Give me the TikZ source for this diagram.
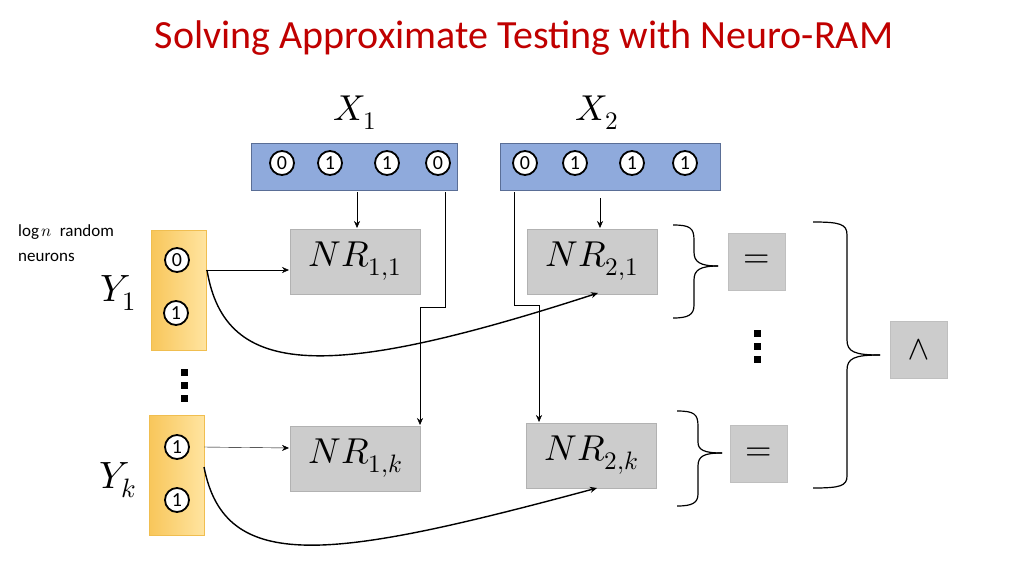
\documentclass[tikz,border=0pt]{standalone}
\usetikzlibrary{arrows.meta}
\usepackage{fontspec}
\usepackage{unicode-math}
\setmainfont{Carlito}
\setmathfont{Latin Modern Math}
\begin{document}
\begin{tikzpicture}[x=1pt,y=-1pt,
 bit/.style={circle,draw,line width=1.8pt,fill=white,inner sep=0pt,minimum size=24pt,font=\fontsize{20}{20}\selectfont},
 nr/.style={draw=gray!60,fill=gray!40,minimum width=130pt,minimum height=65pt,font=\fontsize{36}{36}\selectfont},
 gb/.style={draw=gray!50,fill=gray!40,minimum width=57pt,minimum height=57pt,font=\fontsize{34}{34}\selectfont},
 arr/.style={-{Stealth[length=7pt,width=6pt]}},
 br/.style={line width=1.2pt}]
\useasboundingbox (0,0) rectangle (1024,576);
\fill[white] (0,0) rectangle (1024,576);
\node[text={rgb,255:red,192;green,0;blue,0},font=\fontsize{40}{40}\selectfont] (title) at (524,38) {Solving Approximate Testing with Neuro-RAM};
% X boxes
\node[draw={rgb,255:red,90;green,110;blue,150},fill={rgb,255:red,143;green,170;blue,220},minimum width=206pt,minimum height=47pt] (X1) at (354,166.5) {};
\node[draw={rgb,255:red,90;green,110;blue,150},fill={rgb,255:red,143;green,170;blue,220},minimum width=220pt,minimum height=47pt] (X2) at (610,166.5) {};
\node[font=\fontsize{36}{36}\selectfont] (lx1) at (355,113) {$X_1$};
\node[font=\fontsize{36}{36}\selectfont] (lx2) at (597,113) {$X_2$};
\foreach \x/\v [count=\i] in {282/0,330/1,387/1,438/0}{\node[bit] (a\i) at (\x,163) {\v};}
\foreach \x/\v [count=\i] in {525/0,575/1,632/1,685/1}{\node[bit] (b\i) at (\x,163) {\v};}
% Y boxes
\node[draw={rgb,255:red,240;green,190;blue,80},left color={rgb,255:red,248;green,198;blue,90},right color={rgb,255:red,255;green,228;blue,160},minimum width=55pt,minimum height=120pt] (Y1) at (178.5,290) {};
\node[draw={rgb,255:red,240;green,190;blue,80},left color={rgb,255:red,248;green,198;blue,90},right color={rgb,255:red,255;green,228;blue,160},minimum width=55pt,minimum height=120pt] (Yk) at (176.5,475) {};
\node[bit] (y10) at (177,260) {0};
\node[bit] (y11) at (176,313) {1};
\node[bit] (yk0) at (177,447) {1};
\node[bit] (yk1) at (177,500) {1};
\node[font=\fontsize{38}{38}\selectfont] (ly1) at (118,293) {$Y_1$};
\node[font=\fontsize{38}{38}\selectfont] (lyk) at (118,480) {$Y_k$};
\node[align=left,anchor=north west,inner sep=0pt,font=\fontsize{17}{25}\selectfont] (lg) at (18,224) {log\,$n$\ \ random\\neurons};
\foreach \y in {372,385,398}{\fill (180.5,\y-3.5) rectangle (187.5,\y+3.5);}
\foreach \y in {333,346,359}{\fill (754,\y-3.5) rectangle (761,\y+3.5);}
% NR
\node[nr] (n11) at (355,261.5) {$NR_{1,1}$};
\node[nr] (n1k) at (355.5,458.5) {$NR_{1,k}$};
\node[nr] (n21) at (592,261.5) {$NR_{2,1}$};
\node[nr] (n2k) at (591.5,455.5) {$NR_{2,k}$};
\node[gb] (e1) at (756.5,261.5) {$=$};
\node[gb] (e2) at (758.5,454) {$=$};
\node[gb] (and) at (919,350) {$\wedge$};
% arrows
\coordinate (p1) at (357,192); \coordinate (q1) at (357,228);
\draw[arr] (p1) -- (q1);
\coordinate (p2) at (600,198); \coordinate (q2) at (600,228);
\draw[arr] (p2) -- (q2);
\coordinate (p3) at (445,192); \coordinate (q3) at (420,425);
\draw[arr] (p3) -- (445,307) -- (420,307) -- (q3);
\coordinate (p4) at (514,192); \coordinate (q4) at (539,422);
\draw[arr] (p4) -- (514,305) -- (539,305) -- (q4);
\coordinate (s1) at (206,270); \coordinate (t1) at (289,270);
\draw[arr] (s1) -- (t1);
\coordinate (s2) at (204,447); \coordinate (t2) at (289,448);
\draw[arr] (s2) -- (t2);
\coordinate (c1) at (207,270); \coordinate (d1) at (598,293);
\draw[arr,line width=1.4pt] (c1) .. controls (225,380) and (330,380) .. (d1);
\coordinate (c2) at (204,467); \coordinate (d2) at (597,488);
\draw[arr,line width=1.4pt] (c2) .. controls (225,575) and (330,560) .. (d2);
% braces
\draw[br] (673,225) .. controls (690,225) and (694,228) .. (694,240) -- (694,252) .. controls (694,262) and (700,266) .. (718,266);
\draw[br] (718,266) .. controls (700,266) and (694,270) .. (694,280) -- (694,305) .. controls (694,315) and (688,318) .. (673,318);
\draw[br] (677,411) .. controls (694,411) and (698,414) .. (698,426) -- (698,442) .. controls (698,450) and (704,453) .. (722,453);
\draw[br] (722,453) .. controls (704,453) and (698,456) .. (698,466) -- (698,494) .. controls (698,503) and (692,506) .. (677,506);
\draw[br] (813,222) .. controls (840,222) and (847,224) .. (847,235) -- (847,340) .. controls (847,352) and (855,355) .. (880,355);
\draw[br] (880,355) .. controls (855,355) and (847,358) .. (847,370) -- (847,476) .. controls (847,486) and (840,488) .. (813,488);
\end{tikzpicture}
\end{document}
